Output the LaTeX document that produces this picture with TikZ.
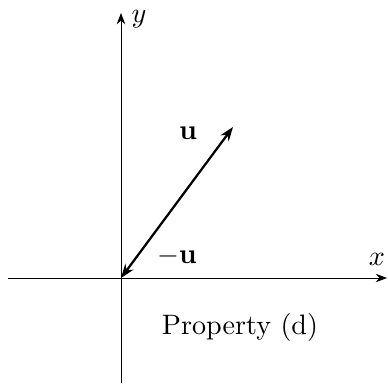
\documentclass[tikz,border=0pt]{standalone}
\usetikzlibrary{arrows.meta}
\begin{document}
\begin{tikzpicture}[x=0.0125cm,y=-0.0125cm,
  axis/.style={line width=0.3pt,-{Stealth[length=4pt,width=3pt]}},
  vec/.style={line width=0.8pt,{Stealth[length=5pt,width=3.6pt]}-{Stealth[length=5pt,width=3.6pt]}}]
\useasboundingbox (0,0) rectangle (388,388);
\coordinate (o) at (121,278);
\coordinate (xs) at (8,278);
\coordinate (xe) at (387,278);
\coordinate (ys) at (121,383);
\coordinate (ye) at (121,13);
\coordinate (p) at (233,127);
\draw[axis] (xs) -- (xe);
\draw[axis] (ys) -- (ye);
\draw[vec] (o) -- (p);
\node (xl) at (377,259) {$x$};
\node (yl) at (139,19) {$y$};
\node (ul) at (188,133) {$\mathbf{u}$};
\node (mul) at (177,256) {$-\mathbf{u}$};
\node (cap) at (240,327) {Property (d)};
\end{tikzpicture}
\end{document}
